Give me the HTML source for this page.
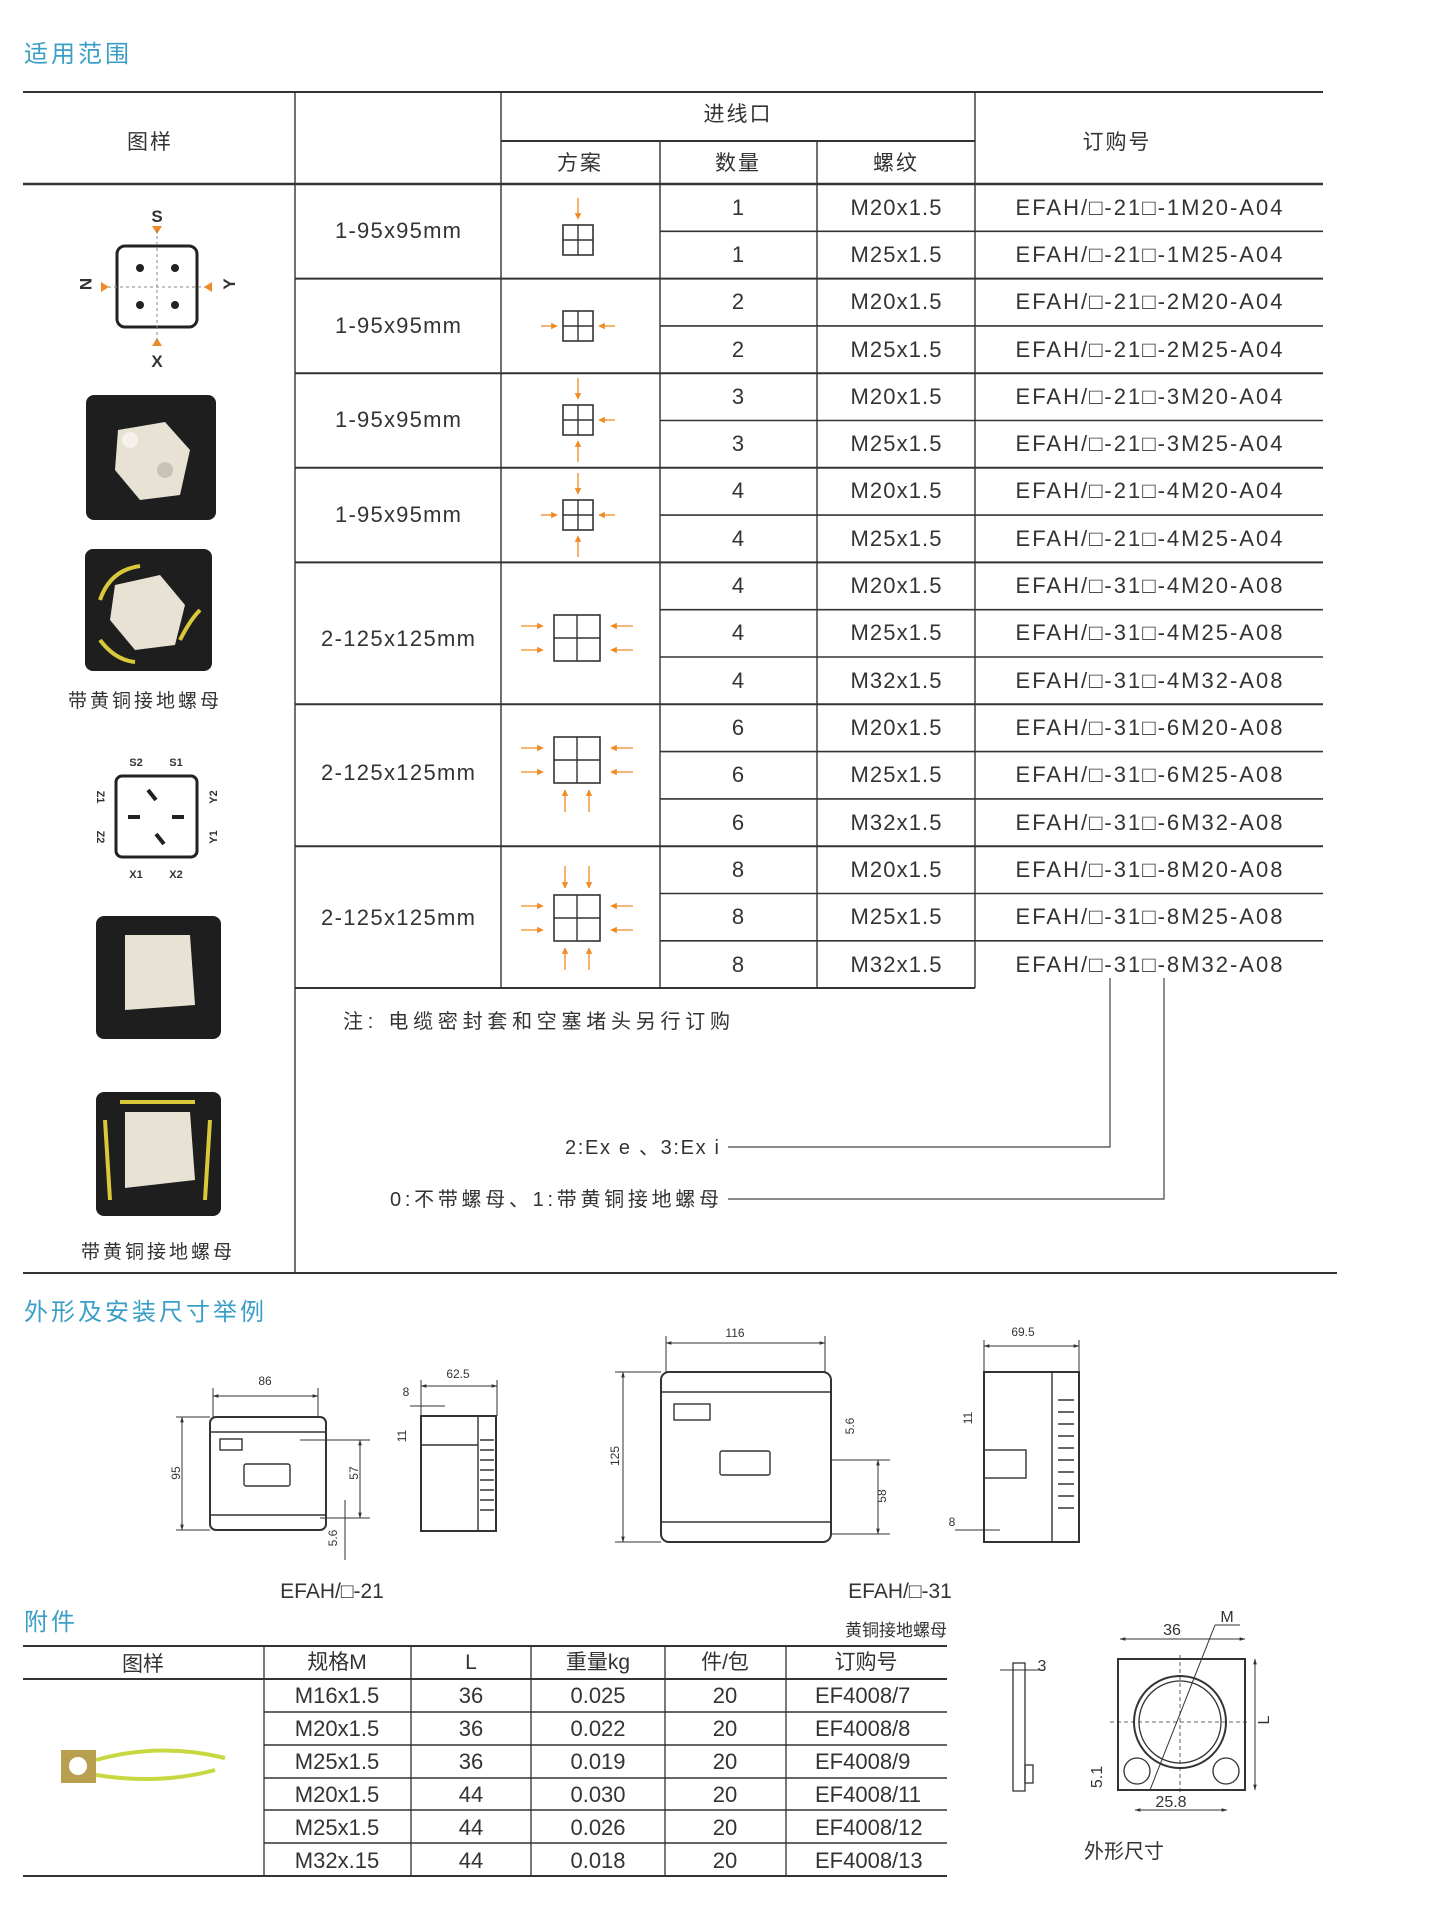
<!DOCTYPE html>
<html><head><meta charset="utf-8"><style>
html,body{margin:0;padding:0;background:#fff;}
svg{display:block;}
text{font-family:"Liberation Sans","Noto Sans CJK SC",sans-serif;fill:#333;}
</style></head><body>
<svg width="1443" height="1913" viewBox="0 0 1443 1913" xmlns="http://www.w3.org/2000/svg">
<defs>
<marker id="ah" viewBox="0 0 10 10" refX="9" refY="5" markerWidth="5" markerHeight="5" orient="auto"><path d="M0,0 L10,5 L0,10 z" fill="#f08a24"/></marker>
<marker id="dk" viewBox="0 0 10 10" refX="9" refY="5" markerWidth="6" markerHeight="6" orient="auto-start-reverse"><path d="M0,2 L10,5 L0,8 z" fill="#333"/></marker>
<g id="sq"><rect x="-15" y="-15" width="30" height="30" fill="none" stroke="#333" stroke-width="1.6"/><line x1="0" y1="-15" x2="0" y2="15" stroke="#333" stroke-width="1.4"/><line x1="-15" y1="0" x2="15" y2="0" stroke="#333" stroke-width="1.4"/></g>
<g id="sqL"><rect x="-23" y="-23" width="46" height="46" fill="none" stroke="#333" stroke-width="1.6"/><line x1="0" y1="-23" x2="0" y2="23" stroke="#333" stroke-width="1.4"/><line x1="-23" y1="0" x2="23" y2="0" stroke="#333" stroke-width="1.4"/></g>
<g id="aT"><line x1="0" y1="-42" x2="0" y2="-21" stroke="#f08a24" stroke-width="1.3" marker-end="url(#ah)"/></g>
<g id="aB"><line x1="0" y1="42" x2="0" y2="21" stroke="#f08a24" stroke-width="1.3" marker-end="url(#ah)"/></g>
<g id="aL"><line x1="-37" y1="0" x2="-21" y2="0" stroke="#f08a24" stroke-width="1.3" marker-end="url(#ah)"/></g>
<g id="aR"><line x1="37" y1="0" x2="21" y2="0" stroke="#f08a24" stroke-width="1.3" marker-end="url(#ah)"/></g>
<g id="LL"><line x1="-56" y1="-12" x2="-34" y2="-12" stroke="#f08a24" stroke-width="1.3" marker-end="url(#ah)"/><line x1="-56" y1="12" x2="-34" y2="12" stroke="#f08a24" stroke-width="1.3" marker-end="url(#ah)"/></g>
<g id="RR"><line x1="56" y1="-12" x2="34" y2="-12" stroke="#f08a24" stroke-width="1.3" marker-end="url(#ah)"/><line x1="56" y1="12" x2="34" y2="12" stroke="#f08a24" stroke-width="1.3" marker-end="url(#ah)"/></g>
<g id="BB"><line x1="-12" y1="52" x2="-12" y2="30" stroke="#f08a24" stroke-width="1.3" marker-end="url(#ah)"/><line x1="12" y1="52" x2="12" y2="30" stroke="#f08a24" stroke-width="1.3" marker-end="url(#ah)"/></g>
<g id="TT"><line x1="-12" y1="-52" x2="-12" y2="-30" stroke="#f08a24" stroke-width="1.3" marker-end="url(#ah)"/><line x1="12" y1="-52" x2="12" y2="-30" stroke="#f08a24" stroke-width="1.3" marker-end="url(#ah)"/></g>
</defs>

<text x="24" y="62" font-size="24" style="fill:#3a9fc6" letter-spacing="3">适用范围</text>

<g stroke="#333" fill="none">
<line x1="23" y1="92" x2="1323" y2="92" stroke-width="2"/>
<line x1="501" y1="141" x2="975" y2="141" stroke-width="2"/>
<line x1="23" y1="184" x2="1323" y2="184" stroke-width="2.4"/>
<line x1="295" y1="92" x2="295" y2="1273" stroke-width="1.4"/>
<line x1="501" y1="92" x2="501" y2="988" stroke-width="1.4"/>
<line x1="660" y1="141" x2="660" y2="988" stroke-width="1.4"/>
<line x1="817" y1="141" x2="817" y2="988" stroke-width="1.4"/>
<line x1="975" y1="92" x2="975" y2="988" stroke-width="1.4"/>
<g stroke-width="1.6">
<line x1="660" y1="231.3" x2="1323" y2="231.3"/>
<line x1="660" y1="325.9" x2="1323" y2="325.9"/>
<line x1="660" y1="420.5" x2="1323" y2="420.5"/>
<line x1="660" y1="515.1" x2="1323" y2="515.1"/>
<line x1="660" y1="609.7" x2="1323" y2="609.7"/>
<line x1="660" y1="657" x2="1323" y2="657"/>
<line x1="660" y1="751.6" x2="1323" y2="751.6"/>
<line x1="660" y1="798.9" x2="1323" y2="798.9"/>
<line x1="660" y1="893.5" x2="1323" y2="893.5"/>
<line x1="660" y1="940.8" x2="1323" y2="940.8"/>
</g>
<g stroke-width="2">
<line x1="295" y1="278.6" x2="1323" y2="278.6"/>
<line x1="295" y1="373.2" x2="1323" y2="373.2"/>
<line x1="295" y1="467.8" x2="1323" y2="467.8"/>
<line x1="295" y1="562.4" x2="1323" y2="562.4"/>
<line x1="295" y1="704.3" x2="1323" y2="704.3"/>
<line x1="295" y1="846.2" x2="1323" y2="846.2"/>
<line x1="295" y1="988" x2="975" y2="988"/>
</g>
<line x1="23" y1="1273" x2="1337" y2="1273" stroke-width="2"/>
</g>

<g font-size="21" text-anchor="middle" letter-spacing="2">
<text x="150" y="149">图样</text>
<text x="738" y="121">进线口</text>
<text x="1117" y="149">订购号</text>
<text x="580" y="170">方案</text>
<text x="738" y="170">数量</text>
<text x="896" y="170">螺纹</text>
</g>

<g font-size="22" text-anchor="middle">
<text x="398" y="238" textLength="126" lengthAdjust="spacing">1-95x95mm</text>
<text x="398" y="333" textLength="126" lengthAdjust="spacing">1-95x95mm</text>
<text x="398" y="427" textLength="126" lengthAdjust="spacing">1-95x95mm</text>
<text x="398" y="522" textLength="126" lengthAdjust="spacing">1-95x95mm</text>
<text x="398" y="646" textLength="154" lengthAdjust="spacing">2-125x125mm</text>
<text x="398" y="780" textLength="154" lengthAdjust="spacing">2-125x125mm</text>
<text x="398" y="925" textLength="154" lengthAdjust="spacing">2-125x125mm</text>
</g>

<g font-size="22" text-anchor="middle">
<text x="738" y="215">1</text><text x="896" y="215" textLength="91">M20x1.5</text><text x="1149" y="215" textLength="267">EFAH/□-21□-1M20-A04</text>
<text x="738" y="262">1</text><text x="896" y="262" textLength="91">M25x1.5</text><text x="1149" y="262" textLength="267">EFAH/□-21□-1M25-A04</text>
<text x="738" y="309">2</text><text x="896" y="309" textLength="91">M20x1.5</text><text x="1149" y="309" textLength="267">EFAH/□-21□-2M20-A04</text>
<text x="738" y="357">2</text><text x="896" y="357" textLength="91">M25x1.5</text><text x="1149" y="357" textLength="267">EFAH/□-21□-2M25-A04</text>
<text x="738" y="404">3</text><text x="896" y="404" textLength="91">M20x1.5</text><text x="1149" y="404" textLength="267">EFAH/□-21□-3M20-A04</text>
<text x="738" y="451">3</text><text x="896" y="451" textLength="91">M25x1.5</text><text x="1149" y="451" textLength="267">EFAH/□-21□-3M25-A04</text>
<text x="738" y="498">4</text><text x="896" y="498" textLength="91">M20x1.5</text><text x="1149" y="498" textLength="267">EFAH/□-21□-4M20-A04</text>
<text x="738" y="546">4</text><text x="896" y="546" textLength="91">M25x1.5</text><text x="1149" y="546" textLength="267">EFAH/□-21□-4M25-A04</text>
<text x="738" y="593">4</text><text x="896" y="593" textLength="91">M20x1.5</text><text x="1149" y="593" textLength="267">EFAH/□-31□-4M20-A08</text>
<text x="738" y="640">4</text><text x="896" y="640" textLength="91">M25x1.5</text><text x="1149" y="640" textLength="267">EFAH/□-31□-4M25-A08</text>
<text x="738" y="688">4</text><text x="896" y="688" textLength="91">M32x1.5</text><text x="1149" y="688" textLength="267">EFAH/□-31□-4M32-A08</text>
<text x="738" y="735">6</text><text x="896" y="735" textLength="91">M20x1.5</text><text x="1149" y="735" textLength="267">EFAH/□-31□-6M20-A08</text>
<text x="738" y="782">6</text><text x="896" y="782" textLength="91">M25x1.5</text><text x="1149" y="782" textLength="267">EFAH/□-31□-6M25-A08</text>
<text x="738" y="830">6</text><text x="896" y="830" textLength="91">M32x1.5</text><text x="1149" y="830" textLength="267">EFAH/□-31□-6M32-A08</text>
<text x="738" y="877">8</text><text x="896" y="877" textLength="91">M20x1.5</text><text x="1149" y="877" textLength="267">EFAH/□-31□-8M20-A08</text>
<text x="738" y="924">8</text><text x="896" y="924" textLength="91">M25x1.5</text><text x="1149" y="924" textLength="267">EFAH/□-31□-8M25-A08</text>
<text x="738" y="972">8</text><text x="896" y="972" textLength="91">M32x1.5</text><text x="1149" y="972" textLength="267">EFAH/□-31□-8M32-A08</text>
</g>

<g transform="translate(578,240)"><use href="#sq"/><use href="#aT"/></g>
<g transform="translate(578,326)"><use href="#sq"/><use href="#aL"/><use href="#aR"/></g>
<g transform="translate(578,420)"><use href="#sq"/><use href="#aT"/><use href="#aR"/><use href="#aB"/></g>
<g transform="translate(578,515)"><use href="#sq"/><use href="#aT"/><use href="#aL"/><use href="#aR"/><use href="#aB"/></g>
<g transform="translate(577,638)"><use href="#sqL"/><use href="#LL"/><use href="#RR"/></g>
<g transform="translate(577,760)"><use href="#sqL"/><use href="#LL"/><use href="#RR"/><use href="#BB"/></g>
<g transform="translate(577,918)"><use href="#sqL"/><use href="#LL"/><use href="#RR"/><use href="#BB"/><use href="#TT"/></g>

<text x="343" y="1028" font-size="20" textLength="387" lengthAdjust="spacing">注:  电缆密封套和空塞堵头另行订购</text>
<text x="565" y="1154" font-size="20" textLength="154" lengthAdjust="spacing">2:Ex e 、3:Ex i</text>
<text x="390" y="1206" font-size="20" textLength="329" lengthAdjust="spacing">0:不带螺母、1:带黄铜接地螺母</text>
<g stroke="#444" stroke-width="1.2" fill="none">
<polyline points="1110,978 1110,1147 728,1147"/>
<polyline points="1164,978 1164,1199 728,1199"/>
</g>

<g>
<text x="157" y="222" font-size="17" font-weight="bold" text-anchor="middle">S</text>
<text x="157" y="367" font-size="17" font-weight="bold" text-anchor="middle">X</text>
<text x="86" y="290" font-size="17" font-weight="bold" text-anchor="middle" transform="rotate(90 86 284)">N</text>
<text x="229" y="290" font-size="17" font-weight="bold" text-anchor="middle" transform="rotate(-90 229 284)">Y</text>
<path d="M152,226 L162,226 L157,234 z M152,346 L162,346 L157,338 z M101,282 L101,292 L109,287 z M212,282 L212,292 L204,287 z" fill="#f08a24"/>
<rect x="117" y="246" width="80" height="81" rx="8" fill="#fff" stroke="#222" stroke-width="3"/>
<line x1="157" y1="230" x2="157" y2="345" stroke="#888" stroke-dasharray="3,3"/>
<line x1="108" y1="287" x2="206" y2="287" stroke="#888" stroke-dasharray="3,3"/>
<circle cx="140" cy="268" r="4" fill="#222"/><circle cx="175" cy="268" r="4" fill="#222"/>
<circle cx="140" cy="305" r="4" fill="#222"/><circle cx="175" cy="305" r="4" fill="#222"/>
</g>
<rect x="86" y="395" width="130" height="125" rx="8" fill="#1e1e1e"/>
<path d="M118,430 L165,422 L190,450 L180,495 L140,500 L115,470 z" fill="#e8e2d4"/>
<circle cx="130" cy="440" r="8" fill="#f5f2ea"/><circle cx="165" cy="470" r="8" fill="#c9c3b5"/>
<rect x="85" y="549" width="127" height="122" rx="8" fill="#1e1e1e"/>
<path d="M115,585 L160,575 L185,605 L175,645 L135,650 L110,620 z" fill="#e8e2d4"/>
<path d="M100,600 Q110,570 140,566 M180,640 Q190,620 200,610 M100,640 Q115,660 135,662" stroke="#d8c83a" stroke-width="4" fill="none"/>
<text x="145" y="707" font-size="19" text-anchor="middle" letter-spacing="3">带黄铜接地螺母</text>

<g>
<rect x="116" y="776" width="81" height="81" rx="6" fill="#fff" stroke="#222" stroke-width="3"/>
<text x="136" y="766" font-size="11" font-weight="bold" text-anchor="middle">S2</text>
<text x="176" y="766" font-size="11" font-weight="bold" text-anchor="middle">S1</text>
<text x="136" y="878" font-size="11" font-weight="bold" text-anchor="middle">X1</text>
<text x="176" y="878" font-size="11" font-weight="bold" text-anchor="middle">X2</text>
<text x="100" y="800" font-size="11" font-weight="bold" text-anchor="middle" transform="rotate(90 100 797)">Z1</text>
<text x="100" y="840" font-size="11" font-weight="bold" text-anchor="middle" transform="rotate(90 100 837)">Z2</text>
<text x="214" y="800" font-size="11" font-weight="bold" text-anchor="middle" transform="rotate(-90 214 797)">Y2</text>
<text x="214" y="840" font-size="11" font-weight="bold" text-anchor="middle" transform="rotate(-90 214 837)">Y1</text>
<path d="M156,800 l-8,-10 M156,834 l8,10 M140,817 l-12,0 M172,817 l12,0" stroke="#222" stroke-width="4"/>
</g>
<rect x="96" y="916" width="125" height="123" rx="8" fill="#1e1e1e"/>
<path d="M125,935 L190,935 L195,1005 L125,1010 z" fill="#e8e2d4"/>
<rect x="96" y="1092" width="125" height="124" rx="8" fill="#1e1e1e"/>
<path d="M125,1112 L190,1112 L195,1180 L125,1188 z" fill="#e8e2d4"/>
<path d="M105,1120 L110,1200 M210,1120 L205,1200 M120,1102 L195,1102" stroke="#d8c83a" stroke-width="4" fill="none"/>
<text x="158" y="1258" font-size="19" text-anchor="middle" letter-spacing="3">带黄铜接地螺母</text>

<text x="24" y="1320" font-size="24" style="fill:#3a9fc6" letter-spacing="3">外形及安装尺寸举例</text>

<g stroke="#333" fill="none" stroke-width="1.4">
<rect x="210" y="1417" width="116" height="113" rx="6" stroke-width="2"/>
<line x1="210" y1="1432" x2="326" y2="1432"/><line x1="210" y1="1515" x2="326" y2="1515"/>
<rect x="220" y="1439" width="22" height="11"/><rect x="244" y="1464" width="46" height="22" rx="2"/>
<line x1="213" y1="1396" x2="318" y2="1396" marker-start="url(#dk)" marker-end="url(#dk)" stroke-width="1"/>
<line x1="213" y1="1388" x2="213" y2="1417" stroke-width="1"/><line x1="318" y1="1388" x2="318" y2="1417" stroke-width="1"/>
<line x1="182" y1="1417" x2="182" y2="1530" marker-start="url(#dk)" marker-end="url(#dk)" stroke-width="1"/>
<line x1="176" y1="1417" x2="210" y2="1417" stroke-width="1"/><line x1="176" y1="1530" x2="210" y2="1530" stroke-width="1"/>
<line x1="360" y1="1440" x2="360" y2="1518" marker-start="url(#dk)" marker-end="url(#dk)" stroke-width="1"/>
<line x1="300" y1="1440" x2="370" y2="1440" stroke-width="1"/><line x1="320" y1="1518" x2="370" y2="1518" stroke-width="1"/>
<line x1="345" y1="1500" x2="345" y2="1560" stroke-width="1"/>
<rect x="421" y="1416" width="75" height="115" stroke-width="2"/>
<line x1="478" y1="1416" x2="478" y2="1531"/>
<path d="M480,1440 h14 M480,1450 h14 M480,1460 h14 M480,1470 h14 M480,1480 h14 M480,1490 h14 M480,1500 h14 M480,1510 h14"/>
<line x1="421" y1="1445" x2="478" y2="1445"/>
<line x1="421" y1="1386" x2="497" y2="1386" marker-start="url(#dk)" marker-end="url(#dk)" stroke-width="1"/>
<line x1="421" y1="1380" x2="421" y2="1416" stroke-width="1"/><line x1="497" y1="1380" x2="497" y2="1416" stroke-width="1"/>
<line x1="410" y1="1406" x2="445" y2="1406" stroke-width="1"/>
<rect x="661" y="1372" width="170" height="170" rx="8" stroke-width="2"/>
<line x1="661" y1="1392" x2="831" y2="1392"/><line x1="661" y1="1522" x2="831" y2="1522"/>
<rect x="674" y="1404" width="36" height="16"/><rect x="720" y="1451" width="50" height="24" rx="2"/>
<line x1="666" y1="1343" x2="825" y2="1343" marker-start="url(#dk)" marker-end="url(#dk)" stroke-width="1"/>
<line x1="666" y1="1336" x2="666" y2="1372" stroke-width="1"/><line x1="825" y1="1336" x2="825" y2="1372" stroke-width="1"/>
<line x1="623" y1="1372" x2="623" y2="1542" marker-start="url(#dk)" marker-end="url(#dk)" stroke-width="1"/>
<line x1="615" y1="1372" x2="661" y2="1372" stroke-width="1"/><line x1="615" y1="1542" x2="661" y2="1542" stroke-width="1"/>
<line x1="878" y1="1460" x2="878" y2="1534" marker-start="url(#dk)" marker-end="url(#dk)" stroke-width="1"/>
<line x1="831" y1="1460" x2="890" y2="1460" stroke-width="1"/><line x1="831" y1="1534" x2="890" y2="1534" stroke-width="1"/>
<rect x="984" y="1372" width="95" height="170" stroke-width="2"/>
<line x1="1052" y1="1372" x2="1052" y2="1542"/>
<path d="M1058,1400 h16 M1058,1412 h16 M1058,1424 h16 M1058,1436 h16 M1058,1448 h16 M1058,1460 h16 M1058,1472 h16 M1058,1484 h16 M1058,1496 h16 M1058,1508 h16"/>
<rect x="984" y="1450" width="42" height="28"/>
<line x1="984" y1="1346" x2="1079" y2="1346" marker-start="url(#dk)" marker-end="url(#dk)" stroke-width="1"/>
<line x1="984" y1="1340" x2="984" y2="1372" stroke-width="1"/><line x1="1079" y1="1340" x2="1079" y2="1372" stroke-width="1"/>
<line x1="955" y1="1530" x2="1000" y2="1530" stroke-width="1"/>
</g>
<g font-size="12" text-anchor="middle">
<text x="265" y="1385">86</text><text x="458" y="1378">62.5</text><text x="735" y="1337">116</text><text x="1023" y="1336">69.5</text>
<text x="406" y="1396">8</text><text x="952" y="1526">8</text>
<text x="176" y="1477" transform="rotate(-90 176 1473)">95</text>
<text x="354" y="1477" transform="rotate(-90 354 1473)">57</text>
<text x="615" y="1460" transform="rotate(-90 615 1456)">125</text>
<text x="882" y="1500" transform="rotate(-90 882 1496)">58</text>
<text x="402" y="1440" transform="rotate(-90 402 1436)">11</text>
<text x="968" y="1422" transform="rotate(-90 968 1418)">11</text>
<text x="850" y="1430" transform="rotate(-90 850 1426)">5.6</text>
<text x="333" y="1542" transform="rotate(-90 333 1538)">5.6</text>
</g>
<text x="332" y="1598" font-size="21" text-anchor="middle">EFAH/□-21</text>
<text x="900" y="1598" font-size="21" text-anchor="middle">EFAH/□-31</text>

<text x="24" y="1630" font-size="24" style="fill:#3a9fc6" letter-spacing="3">附件</text>
<text x="947" y="1636" font-size="17" text-anchor="end">黄铜接地螺母</text>

<g stroke="#333" fill="none">
<line x1="23" y1="1646" x2="947" y2="1646" stroke-width="2"/>
<line x1="23" y1="1679" x2="947" y2="1679" stroke-width="2"/>
<line x1="23" y1="1876" x2="947" y2="1876" stroke-width="2"/>
<g stroke-width="1.6">
<line x1="264" y1="1712" x2="947" y2="1712"/><line x1="264" y1="1745" x2="947" y2="1745"/>
<line x1="264" y1="1778" x2="947" y2="1778"/><line x1="264" y1="1810" x2="947" y2="1810"/>
<line x1="264" y1="1843" x2="947" y2="1843"/>
</g>
<g stroke-width="1.3">
<line x1="264" y1="1646" x2="264" y2="1876"/><line x1="411" y1="1646" x2="411" y2="1876"/>
<line x1="531" y1="1646" x2="531" y2="1876"/><line x1="665" y1="1646" x2="665" y2="1876"/>
<line x1="786" y1="1646" x2="786" y2="1876"/>
</g>
</g>
<g font-size="21" text-anchor="middle">
<text x="143" y="1671">图样</text><text x="337" y="1669">规格M</text><text x="471" y="1669">L</text><text x="598" y="1669">重量kg</text><text x="725" y="1669">件/包</text><text x="866" y="1669">订购号</text>
</g>
<g font-size="22" text-anchor="middle">
<text x="337" y="1703">M16x1.5</text><text x="471" y="1703">36</text><text x="598" y="1703">0.025</text><text x="725" y="1703">20</text>
<text x="337" y="1736">M20x1.5</text><text x="471" y="1736">36</text><text x="598" y="1736">0.022</text><text x="725" y="1736">20</text>
<text x="337" y="1769">M25x1.5</text><text x="471" y="1769">36</text><text x="598" y="1769">0.019</text><text x="725" y="1769">20</text>
<text x="337" y="1802">M20x1.5</text><text x="471" y="1802">44</text><text x="598" y="1802">0.030</text><text x="725" y="1802">20</text>
<text x="337" y="1835">M25x1.5</text><text x="471" y="1835">44</text><text x="598" y="1835">0.026</text><text x="725" y="1835">20</text>
<text x="337" y="1868">M32x.15</text><text x="471" y="1868">44</text><text x="598" y="1868">0.018</text><text x="725" y="1868">20</text>
</g>
<g font-size="22">
<text x="815" y="1703">EF4008/7</text><text x="815" y="1736">EF4008/8</text><text x="815" y="1769">EF4008/9</text>
<text x="815" y="1802">EF4008/11</text><text x="815" y="1835">EF4008/12</text><text x="815" y="1868">EF4008/13</text>
</g>
<rect x="61" y="1750" width="35" height="33" fill="#b8a050"/><circle cx="78" cy="1766" r="9" fill="#fff"/>
<path d="M96,1760 Q160,1742 225,1758 M96,1775 Q160,1785 215,1770" stroke="#c8d840" stroke-width="4" fill="none"/>
<g stroke="#333" fill="none" stroke-width="1.3">
<rect x="1013" y="1663" width="12" height="128"/>
<line x1="1000" y1="1670" x2="1045" y2="1670" stroke-width="1"/>
<rect x="1025" y="1765" width="8" height="18"/>
<rect x="1118" y="1659" width="127" height="131" stroke-width="2"/>
<circle cx="1180" cy="1722" r="46" stroke-width="2"/><circle cx="1180" cy="1722" r="41"/>
<circle cx="1137" cy="1771" r="13"/><circle cx="1226" cy="1771" r="13"/>
<line x1="1120" y1="1639" x2="1245" y2="1639" marker-start="url(#dk)" marker-end="url(#dk)" stroke-width="1"/>
<line x1="1255" y1="1659" x2="1255" y2="1790" marker-start="url(#dk)" marker-end="url(#dk)" stroke-width="1"/>
<line x1="1135" y1="1810" x2="1227" y2="1810" marker-start="url(#dk)" marker-end="url(#dk)" stroke-width="1"/>
<line x1="1150" y1="1790" x2="1215" y2="1625" stroke-width="1"/><line x1="1215" y1="1625" x2="1240" y2="1625" stroke-width="1"/>
<line x1="1180" y1="1655" x2="1180" y2="1795" stroke-width="0.8" stroke-dasharray="4,3"/>
<line x1="1110" y1="1722" x2="1250" y2="1722" stroke-width="0.8" stroke-dasharray="4,3"/>
</g>
<g font-size="16" text-anchor="middle">
<text x="1227" y="1622">M</text><text x="1172" y="1635">36</text><text x="1171" y="1807">25.8</text><text x="1042" y="1671">3</text>
<text x="1269" y="1728" transform="rotate(-90 1265 1724)">L</text>
<text x="1102" y="1785" transform="rotate(-90 1098 1781)">5.1</text>
</g>
<text x="1124" y="1858" font-size="20" text-anchor="middle">外形尺寸</text>
</svg>
</body></html>
